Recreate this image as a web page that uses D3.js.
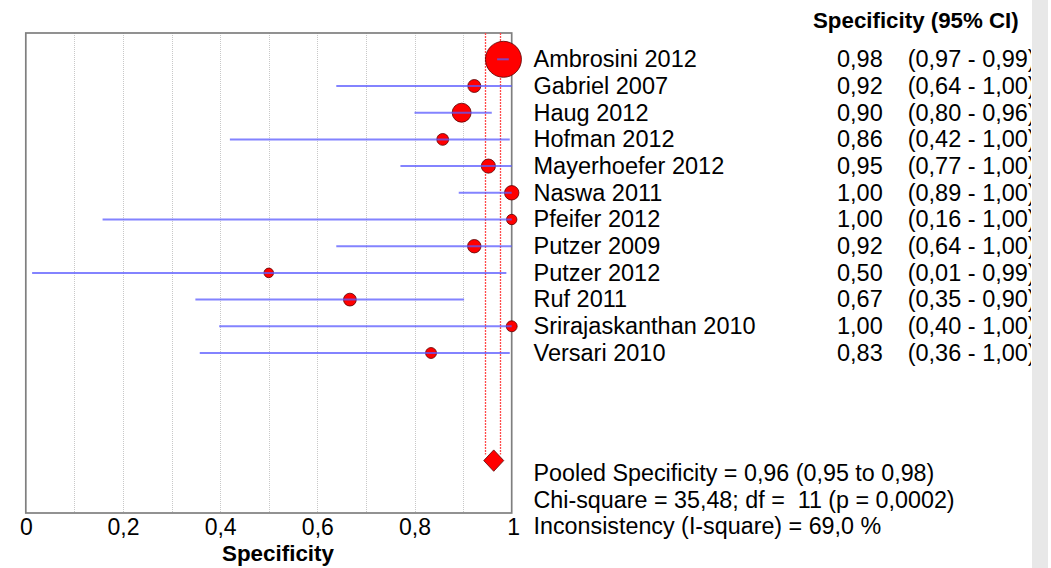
<!DOCTYPE html>
<html>
<head>
<meta charset="utf-8">
<script src="https://cdn.jsdelivr.net/npm/d3@7"></script>
<style>
  html, body { margin: 0; padding: 0; background: #fff; }
  svg { display: block; font-family: "Liberation Sans", Arial, sans-serif; }
  text { white-space: pre; }
</style>
</head>
<body>
<svg id="chart" width="1051" height="568"></svg>
<script>
// Study-level specificity with 95% confidence intervals
const studies = ["Ambrosini 2012", "Gabriel 2007", "Haug 2012", "Hofman 2012",
  "Mayerhoefer 2012", "Naswa 2011", "Pfeifer 2012", "Putzer 2009",
  "Putzer 2012", "Ruf 2011", "Srirajaskanthan 2010", "Versari 2010"];
const spec  = [0.983, 0.923, 0.897, 0.858, 0.952, 1.00, 1.00, 0.923, 0.500, 0.667, 1.00, 0.834];
const ciLow = [0.970, 0.639, 0.800, 0.420, 0.771, 0.891, 0.158, 0.639, 0.013, 0.349, 0.398, 0.358];
const ciHigh= [0.994, 1.00, 0.959, 0.996, 1.00, 1.00, 1.00, 1.00, 0.989, 0.902, 1.00, 0.996];
// Relative study weights (marker area)
const weights = [324, 42, 90, 35, 50, 52, 27, 45, 23, 41, 30, 30];

// Pooled estimate and heterogeneity
const pooled = 0.963, pooledLow = 0.946, pooledHigh = 0.976;
const chiSquare = 35.48, df = 11, pValue = 0.0002, iSquare = 69.0;

const xTicks = [0, 0.2, 0.4, 0.6, 0.8, 1];
const gridTicks = [0.1, 0.2, 0.3, 0.4, 0.5, 0.6, 0.7, 0.8, 0.9];

const svg = d3.select("#chart");
const comma = s => s.replace(".", ",");
const f2 = v => comma(d3.format(".2f")(v));

const plot = { left: 25.8, right: 511.7, top: 33, bottom: 513 };
const x = d3.scaleLinear().domain([0, 1]).range([plot.left, plot.right]);
const y = d3.scaleLinear().domain([0, studies.length - 1]).range([59.3, 353]);
const pooledY = y(15.03);
const r = d3.scaleSqrt().domain([0, d3.max(weights)]).range([0, 18]);
const snap = v => Math.round(v) + 0.5;

// window scrollbar strip at the right edge
svg.append("rect").attr("x", 1032).attr("y", 0).attr("width", 16).attr("height", 568)
  .attr("fill", "#e8e8e8");

// dotted gridlines
svg.append("g").attr("shape-rendering", "crispEdges")
  .selectAll("line").data(gridTicks).join("line")
  .attr("x1", d => snap(x(d))).attr("x2", d => snap(x(d)))
  .attr("y1", plot.top).attr("y2", plot.bottom)
  .attr("stroke", "#c8c8c8").attr("stroke-width", 1).attr("stroke-dasharray", "1,1");

// frame
svg.append("rect").attr("x", plot.left).attr("y", plot.top)
  .attr("width", plot.right - plot.left).attr("height", plot.bottom - plot.top)
  .attr("fill", "none").attr("stroke", "#7f7f7f").attr("stroke-width", 1.7);

// pooled CI reference lines
svg.append("g")
  .selectAll("line").data([pooledLow, pooledHigh]).join("line")
  .attr("x1", d => snap(x(d))).attr("x2", d => snap(x(d)))
  .attr("y1", plot.top).attr("y2", pooledY - 6)
  .attr("stroke", "#ff4a4a").attr("stroke-width", 1.3).attr("stroke-dasharray", "2,1");

const idx = d3.range(studies.length);

// study markers
svg.append("g").selectAll("circle").data(idx).join("circle")
  .attr("cx", i => x(spec[i])).attr("cy", i => y(i)).attr("r", i => r(weights[i]))
  .attr("fill", "#ff0000").attr("stroke", "#5a0000").attr("stroke-width", 0.8);

// confidence interval lines
svg.append("g").selectAll("line").data(idx).join("line")
  .attr("x1", i => x(ciLow[i])).attr("x2", i => x(ciHigh[i]))
  .attr("y1", i => y(i)).attr("y2", i => y(i))
  .attr("stroke", "#5a5aff").attr("stroke-opacity", 0.75).attr("stroke-width", 2);

// pooled diamond
const px = x(pooled);
svg.append("path")
  .attr("d", `M${px - 10},${pooledY} L${px},${pooledY - 10.7} L${px + 10},${pooledY} L${px},${pooledY + 10.7} Z`)
  .attr("fill", "#ff0000").attr("stroke", "#5a0000").attr("stroke-width", 0.8);

// x axis labels
const axis = d3.axisBottom(x).tickValues(xTicks).tickSize(0).tickPadding(0)
  .tickFormat(d => comma(String(d)));
const ax = svg.append("g").attr("transform", `translate(0,${plot.bottom})`).call(axis);
ax.select(".domain").remove();
ax.selectAll("text").attr("dy", null).attr("y", 22).attr("fill", "#000")
  .style("font-size", "23px").style("font-family", "'Liberation Sans', Arial, sans-serif");
ax.selectAll(".tick").filter(d => d === 1).select("text").attr("x", 1.5);

svg.append("text").attr("x", 278).attr("y", 561).attr("text-anchor", "middle")
  .style("font-size", "22.4px").style("font-weight", "bold").text("Specificity");

// right-hand table, clipped at the window edge
svg.append("clipPath").attr("id", "tableClip").append("rect")
  .attr("x", 515).attr("y", 0).attr("width", 516).attr("height", 568);
const table = svg.append("g").attr("clip-path", "url(#tableClip)");

table.append("text").attr("x", 813).attr("y", 28)
  .style("font-size", "22.3px").style("font-weight", "bold").text("Specificity (95% CI)");

const rows = table.append("g").selectAll("g").data(idx).join("g")
  .attr("transform", i => `translate(0,${y(i) + 7.8})`).style("font-size", "23.5px");
rows.append("text").attr("x", 533.5).text(i => studies[i]);
rows.append("text").attr("x", 837).text(i => f2(spec[i]));
rows.append("text").attr("x", 907.7).text(i => `(${f2(ciLow[i])} - ${f2(ciHigh[i])})`);

const stats = [
  `Pooled Specificity = ${f2(pooled)} (${f2(pooledLow)} to ${f2(pooledHigh)})`,
  `Chi-square = ${comma(d3.format(".2f")(chiSquare))}; df =  ${df} (p = ${comma(d3.format(".4f")(pValue))})`,
  `Inconsistency (I-square) = ${comma(d3.format(".1f")(iSquare))} %`
];
table.append("g").selectAll("text").data(stats).join("text")
  .attr("x", 533.5).attr("y", (d, i) => 481 + i * 26.7)
  .style("font-size", "23.3px").text(d => d);
</script>
</body>
</html>
